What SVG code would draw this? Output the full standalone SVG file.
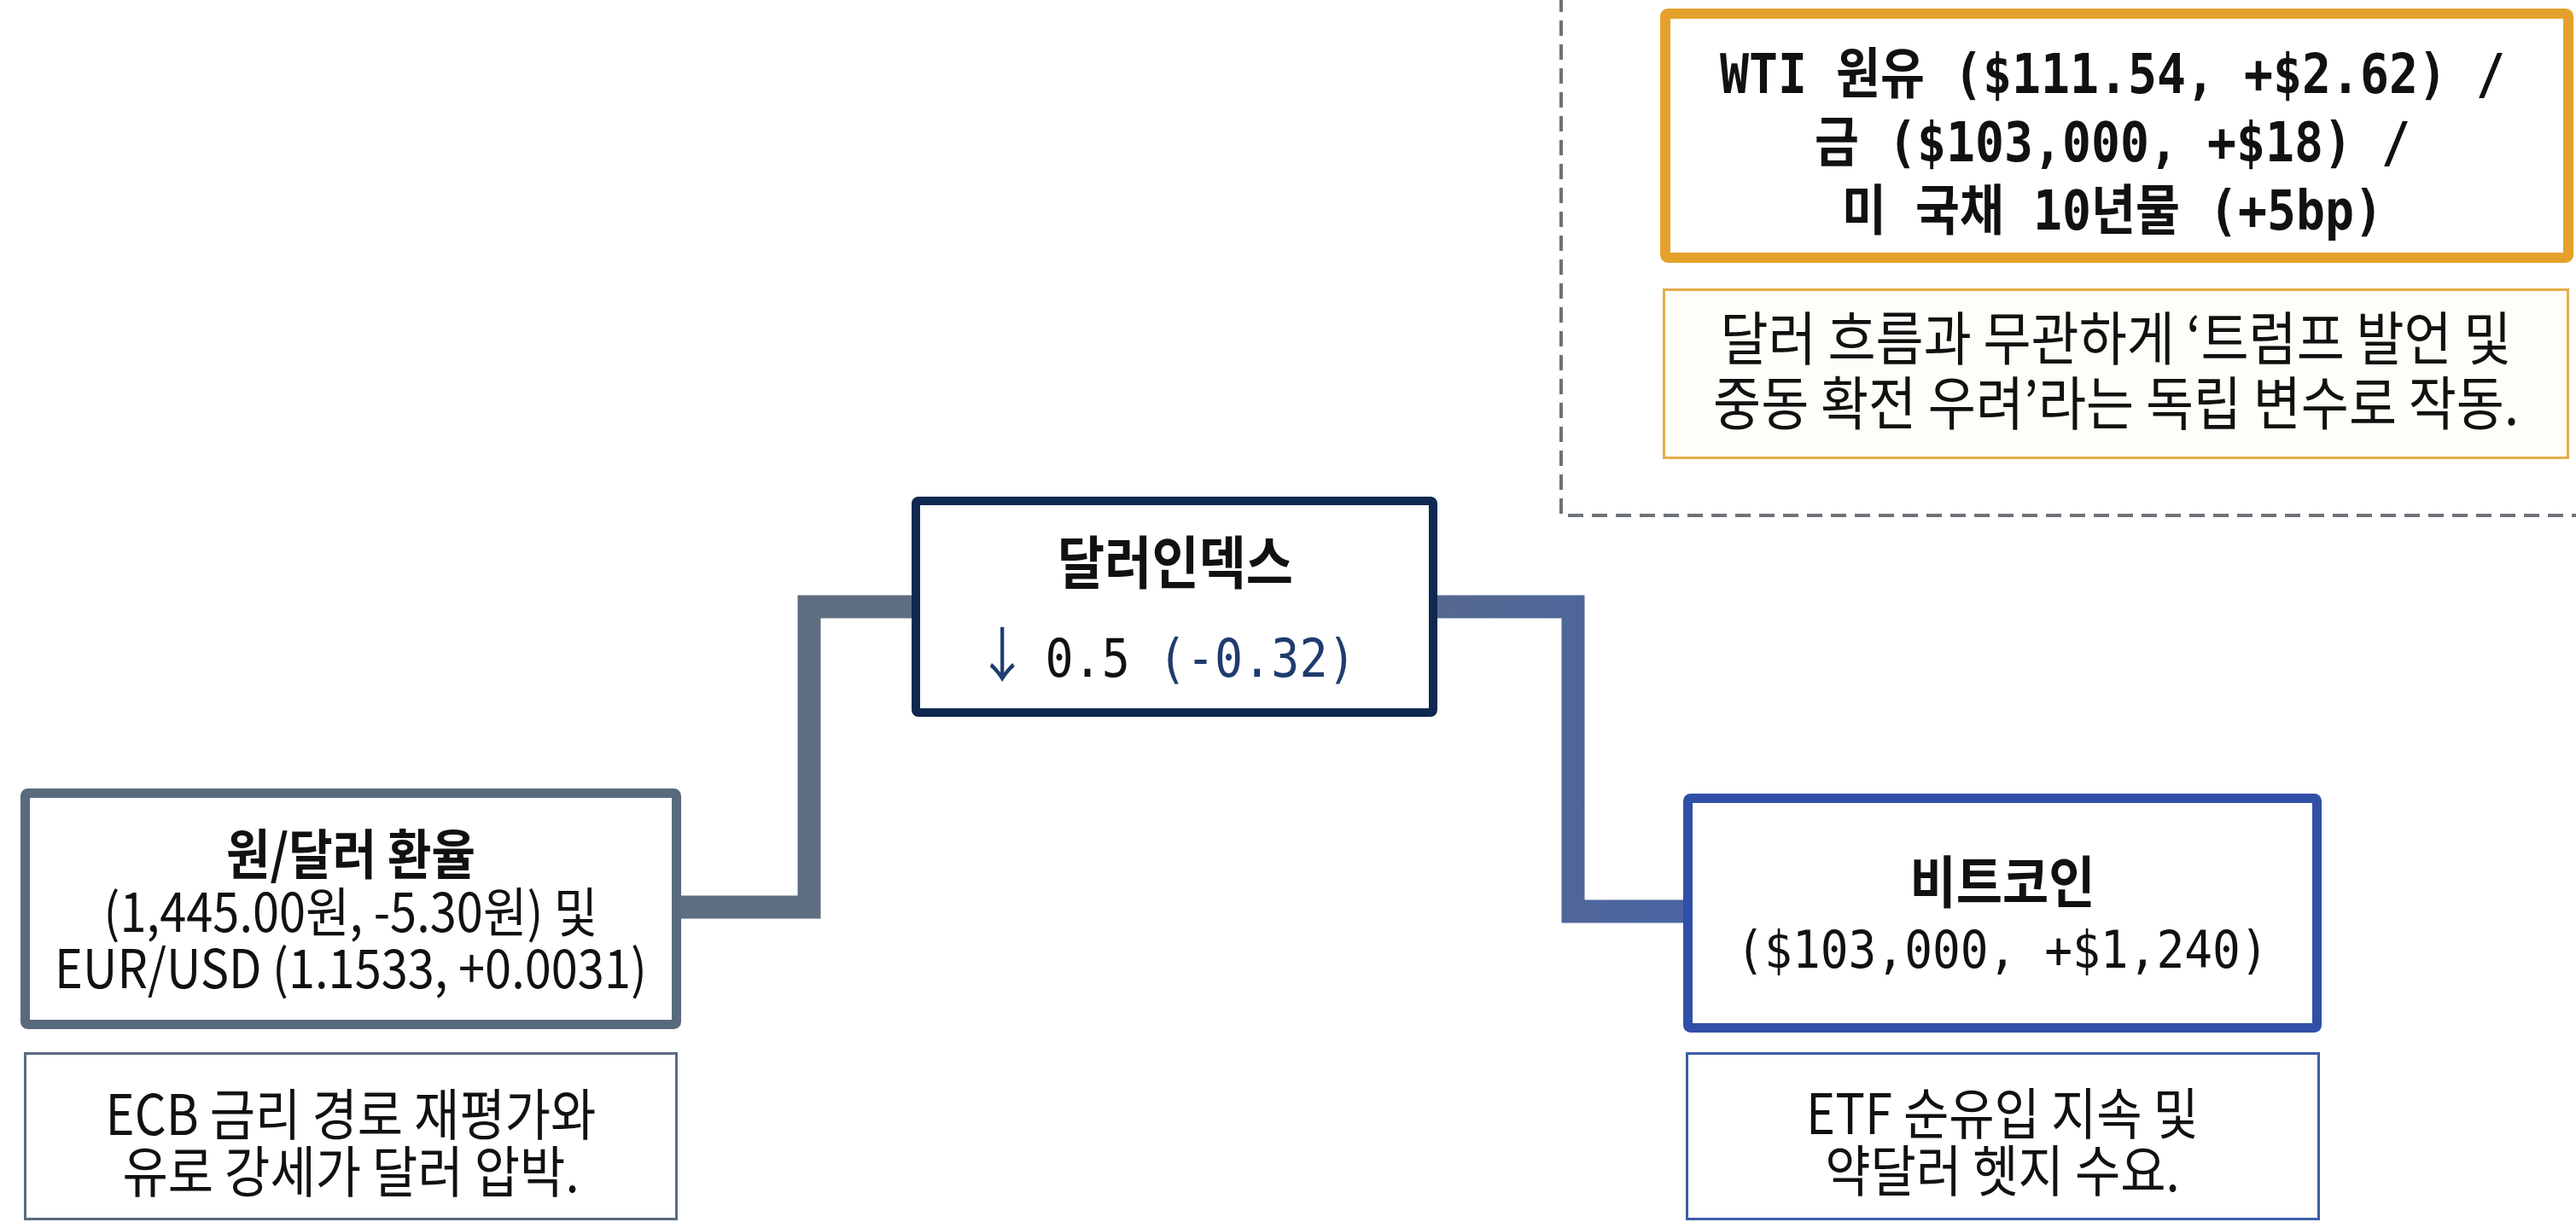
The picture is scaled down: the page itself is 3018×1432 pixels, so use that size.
<svg xmlns="http://www.w3.org/2000/svg" width="3018" height="1432" viewBox="0 0 3018 1432">
  <defs>
    <linearGradient id="gRight" x1="1684" y1="0" x2="1972" y2="0" gradientUnits="userSpaceOnUse">
      <stop offset="0" stop-color="#55698F"/>
      <stop offset="1" stop-color="#4A64A2"/>
    </linearGradient>
    <style>
      .kr { font-family: "Noto Sans CJK KR", "Noto Sans", sans-serif; fill: #111; }
      .krb { font-family: "Noto Sans CJK KR", "Noto Sans", sans-serif; font-weight: 700; fill: #111; }
      .mono { font-family: "DejaVu Sans Mono", "Noto Sans CJK KR", monospace; fill: #111; }
      .monob { font-family: "DejaVu Sans Mono", "Noto Sans CJK KR", monospace; font-weight: 700; fill: #111; }
      .arrow { font-family: "Noto Sans CJK KR", sans-serif; font-weight: 400; }
      .box { fill: #FFFFFF; stroke-width: 11; }
      .note { fill: #FFFFFF; stroke-width: 3; }
      .conn { fill: none; stroke-width: 27; stroke-linejoin: miter; }
      .navy { fill: #1F3C6E; }
    </style>
  </defs>
  <rect x="0" y="0" width="3018" height="1432" fill="#FFFFFF"/>

  <!-- dashed group frame -->
  <path d="M1829 -4 V604 H3022" fill="none" stroke="#6E737A" stroke-width="4" stroke-dasharray="18 10"/>

  <g id="connectors">
    <path class="conn" d="M798 1063 H948 V711 H1070" stroke="#5E6E80"/>
    <path class="conn" d="M1682 711 H1843 V1068 H1974" stroke="url(#gRight)"/>
  </g>

  <g id="node-krw">
    <rect class="box" x="29.5" y="929.5" width="763" height="271" rx="3" stroke="#5A6A7D"/>
    <text class="krb" x="411" y="0" font-size="56" text-anchor="middle" transform="translate(0,1024) scale(1,1.12)">원/달러 환율</text>
    <text class="kr" x="411" y="0" font-size="56" text-anchor="middle" transform="translate(0,1092) scale(1,1.12)">(1,445.00원, -5.30원) 및</text>
    <text class="kr" x="411" y="0" font-size="56" text-anchor="middle" transform="translate(0,1158) scale(1,1.12)">EUR/USD (1.1533, +0.0031)</text>
  </g>
  <g id="note-krw">
    <rect class="note" x="29.5" y="1234.5" width="763" height="194" stroke="#5B6B7E"/>
    <text class="kr" x="411" y="0" font-size="58" text-anchor="middle" transform="translate(0,1330) scale(1,1.12)">ECB 금리 경로 재평가와</text>
    <text class="kr" x="411" y="0" font-size="58" text-anchor="middle" transform="translate(0,1397) scale(1,1.12)">유로 강세가 달러 압박.</text>
  </g>

  <g id="node-dxy">
    <rect class="box" x="1073" y="587" width="606" height="248" rx="3" stroke="#0F2850" style="stroke-width:10"/>
    <text class="krb" x="1377" y="0" font-size="60" text-anchor="middle" transform="translate(0,684) scale(1,1.12)">달러인덱스</text>
    <text class="mono" x="1366" y="0" font-size="55" text-anchor="middle" transform="translate(0,793) scale(1,1.12)"><tspan class="navy arrow" font-size="62">↓</tspan><tspan dx="-14"> 0.5 </tspan><tspan class="navy">(-0.32)</tspan></text>
  </g>

  <g id="node-btc">
    <rect class="box" x="1977.5" y="935.5" width="737" height="269" rx="3" stroke="#3050A8"/>
    <text class="krb" x="2346" y="0" font-size="59" text-anchor="middle" transform="translate(0,1058) scale(1,1.12)">비트코인</text>
    <text class="mono" x="2346" y="0" font-size="54.5" text-anchor="middle" transform="translate(0,1134) scale(1,1.12)">($103,000, +$1,240)</text>
  </g>
  <g id="note-btc">
    <rect class="note" x="1976.5" y="1234.5" width="740" height="194" stroke="#3E5DA8"/>
    <text class="kr" x="2346" y="0" font-size="58" text-anchor="middle" transform="translate(0,1329) scale(1,1.12)">ETF 순유입 지속 및</text>
    <text class="kr" x="2346" y="0" font-size="58" text-anchor="middle" transform="translate(0,1396) scale(1,1.12)">약달러 헷지 수요.</text>
  </g>

  <g id="node-macro">
    <rect class="box" x="1951" y="16" width="1058" height="286" rx="3" stroke="#E4A22C" style="stroke-width:12"/>
    <text class="monob" x="2475" y="0" font-size="56.5" text-anchor="middle" transform="translate(0,109) scale(1,1.12)">WTI 원유 ($111.54, +$2.62) /</text>
    <text class="monob" x="2475" y="0" font-size="56.5" text-anchor="middle" transform="translate(0,189) scale(1,1.12)">금 ($103,000, +$18) /</text>
    <text class="monob" x="2475" y="0" font-size="56.5" text-anchor="middle" transform="translate(0,269) scale(1,1.12)">미 국채 10년물 (+5bp)</text>
  </g>
  <g id="note-macro">
    <rect class="note" x="1949.5" y="339.5" width="1059" height="197" stroke="#E3AE4A" style="fill:#FFFDF7"/>
    <text class="kr" x="2479" y="0" font-size="61" text-anchor="middle" transform="translate(0,422) scale(1,1.12)">달러 흐름과 무관하게 ‘트럼프 발언 및</text>
    <text class="kr" x="2479" y="0" font-size="61" text-anchor="middle" transform="translate(0,498) scale(1,1.12)">중동 확전 우려’라는 독립 변수로 작동.</text>
  </g>
</svg>
